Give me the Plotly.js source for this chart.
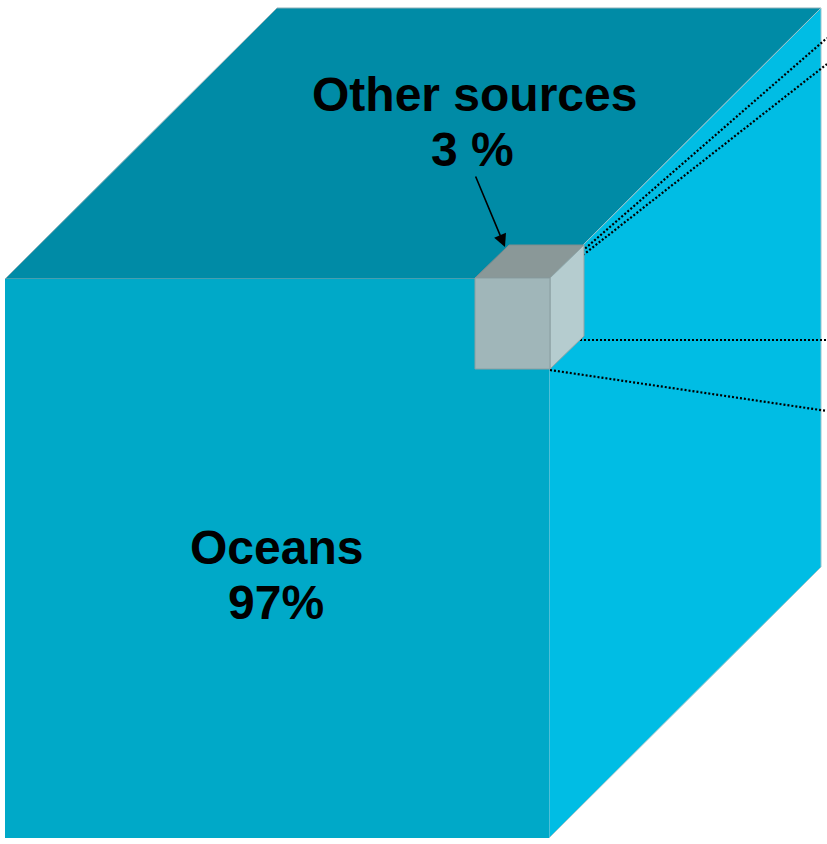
<!DOCTYPE html>
<html>
<head>
<meta charset="utf-8">
<script src="https://cdn.plot.ly/plotly-3.0.1.min.js"></script>
<style>
  html, body { margin: 0; padding: 0; background: #ffffff; }
  #chart { width: 827px; height: 844px; }
</style>
</head>
<body>
<div id="chart"></div>
<script>
// Share of the world's water by source
const sources = ['Oceans', 'Other sources'];
const shares = [97, 3];
const shareLabels = ['97%', '3 %'];

// Build the three visible faces of a cube drawn in oblique projection.
// (x0, y0) = top-left of the front face, w/h = front face size, dx/dy = depth offset.
function cubeFaces(x0, y0, w, h, dx, dy) {
  const x1 = x0 + w, y1 = y0 + h;
  return {
    front: { x: [x0, x1, x1, x0, x0], y: [y0, y0, y1, y1, y0] },
    top:   { x: [x0, x1, x1 + dx, x0 + dx, x0], y: [y0, y0, y0 + dy, y0 + dy, y0] },
    right: { x: [x1, x1 + dx, x1 + dx, x1, x1], y: [y0, y0 + dy, y1 + dy, y1, y0] }
  };
}

const big = cubeFaces(5, 279, 544, 559, 272, -271);
const small = cubeFaces(475, 278, 75, 91, 34, -33);

function face(poly, fill, line, lw) {
  return {
    type: 'scatter', mode: 'lines', x: poly.x, y: poly.y,
    fill: 'toself', fillcolor: fill,
    line: { color: line, width: lw || 0 },
    hoverinfo: 'skip', showlegend: false
  };
}

function dotted(xs, ys) {
  return {
    type: 'scatter', mode: 'lines', x: xs, y: ys,
    line: { color: '#000000', width: 2.2, dash: '2px,2px' },
    hoverinfo: 'skip', showlegend: false
  };
}

const traces = [
  face(big.top, '#008ba6', '#8fb0b8', 1),
  face(big.right, '#00bde4', '#9cc4cc', 1),
  face(big.front, '#00a9c8', '#00a9c8', 0),
  // zoom-out guide lines leaving the small cube
  dotted([549, 827], [280, 38]),
  dotted([583, 827], [255, 64]),
  dotted([580, 827], [340, 340]),
  dotted([550, 827], [370, 411]),
  face(small.top, '#8a9898', '#7f8c8e', 1),
  face(small.right, '#b5cccf', '#8fa4a6', 1),
  face(small.front, '#a0b6b9', '#8a9ea1', 1)
];

const textFont = { family: 'Liberation Sans, Arial, sans-serif', size: 48, color: '#000000' };

function label(text, x, y) {
  return { x: x, y: y, xref: 'x', yref: 'y', showarrow: false,
           text: '<b>' + text + '</b>', font: textFont, align: 'center' };
}

const layout = {
  width: 827, height: 844,
  margin: { l: 0, r: 0, t: 0, b: 0 },
  paper_bgcolor: '#ffffff', plot_bgcolor: '#ffffff',
  xaxis: { range: [0, 827], visible: false, fixedrange: true },
  yaxis: { range: [844, 0], visible: false, fixedrange: true },
  showlegend: false,
  annotations: [
    label(sources[0], 276, 547),
    label(shareLabels[0], 276, 602),
    label(sources[1], 474, 94),
    label(shareLabels[1], 472, 149),
    {
      x: 505, y: 247, ax: 475, ay: 175, axref: 'x', ayref: 'y',
      xref: 'x', yref: 'y', text: '', showarrow: true,
      arrowhead: 2, arrowsize: 1.6, arrowwidth: 1.6, arrowcolor: '#000000'
    }
  ]
};

Plotly.newPlot('chart', traces, layout, { staticPlot: true, displayModeBar: false });
</script>
</body>
</html>
